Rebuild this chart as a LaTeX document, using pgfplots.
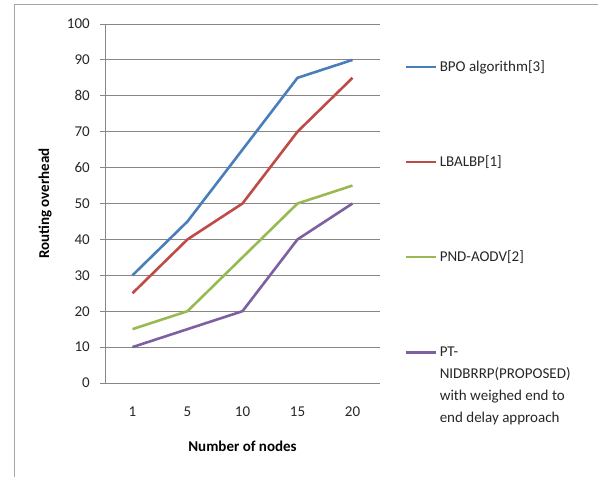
\documentclass[border=0pt]{standalone}
\usepackage{pgfplots}
\pgfplotsset{compat=1.18}
\usepackage{fontspec}
\setmainfont{Carlito}
\definecolor{cblue}{HTML}{4A7EBB}
\definecolor{cred}{HTML}{BE4B48}
\definecolor{cgreen}{HTML}{98B954}
\definecolor{cpurple}{HTML}{7D60A0}
\definecolor{gridgray}{HTML}{878787}
\definecolor{framegray}{HTML}{A6A6A6}
\begin{document}
\fontsize{15bp}{18bp}\selectfont
\begin{tikzpicture}
\useasboundingbox (0,0) rectangle (598bp,477bp);
\draw[framegray, line width=1bp] (14bp,-10bp) -- (14bp,472bp) -- (620bp,472bp);
\begin{axis}[
  at={(105bp,94bp)}, anchor=south west,
  scale only axis, width=275bp, height=359bp,
  xmin=-0.5, xmax=4.5, ymin=0, ymax=100,
  xtick={0,1,2,3,4}, xticklabels={1,5,10,15,20},
  ytick={0,10,...,100},
  ymajorgrids, grid style={gridgray, line width=0.9bp},
  axis x line*=bottom, axis y line*=left,
  axis line style={gridgray, line width=0.9bp, -},
  x tick style={draw=none},
  y tick style={gridgray, line width=0.9bp},
  tick align=outside, major tick length=5bp,
  /pgf/number format/assume math mode=true,
  tick label style={font=\fontsize{15bp}{18bp}\selectfont, text=black!85},
  yticklabel style={xshift=-5bp},
  xticklabel style={yshift=-14bp},
  xlabel={Number of nodes}, ylabel={Routing overhead},
  label style={font=\fontsize{15bp}{18bp}\selectfont\bfseries},
  xlabel style={at={(axis description cs:0.5,-0.175)}, anchor=center},
  ylabel style={at={(axis description cs:-0.218,0.5)}, anchor=center},
  legend style={at={(axis description cs:1.08,0.91)}, anchor=north west,
    draw=none, fill=none, row sep=78bp,
    nodes={font=\fontsize{15bp}{22bp}\selectfont, text=black!85}},
  legend cell align=left,
  legend image code/.code={\draw[#1] (0bp,0bp) -- (30bp,0bp);},
  every axis plot/.append style={line width=2.6bp},
]
\addplot[cblue] coordinates {(0,30) (1,45) (2,65) (3,85) (4,90)};
\addplot[cred] coordinates {(0,25) (1,40) (2,50) (3,70) (4,85)};
\addplot[cgreen] coordinates {(0,15) (1,20) (2,35) (3,50) (4,55)};
\addplot[cpurple] coordinates {(0,10) (1,15) (2,20) (3,40) (4,50)};
\legend{BPO algorithm[3], LBALBP[1], PND-AODV[2], {\raisebox{0pt}[11bp][3.5bp]{\begin{tabular}[t]{@{}l@{}}PT-\\NIDBRRP(PROPOSED)\\with weighed end to\\end delay approach\end{tabular}}}}
\end{axis}
\end{tikzpicture}
\end{document}
